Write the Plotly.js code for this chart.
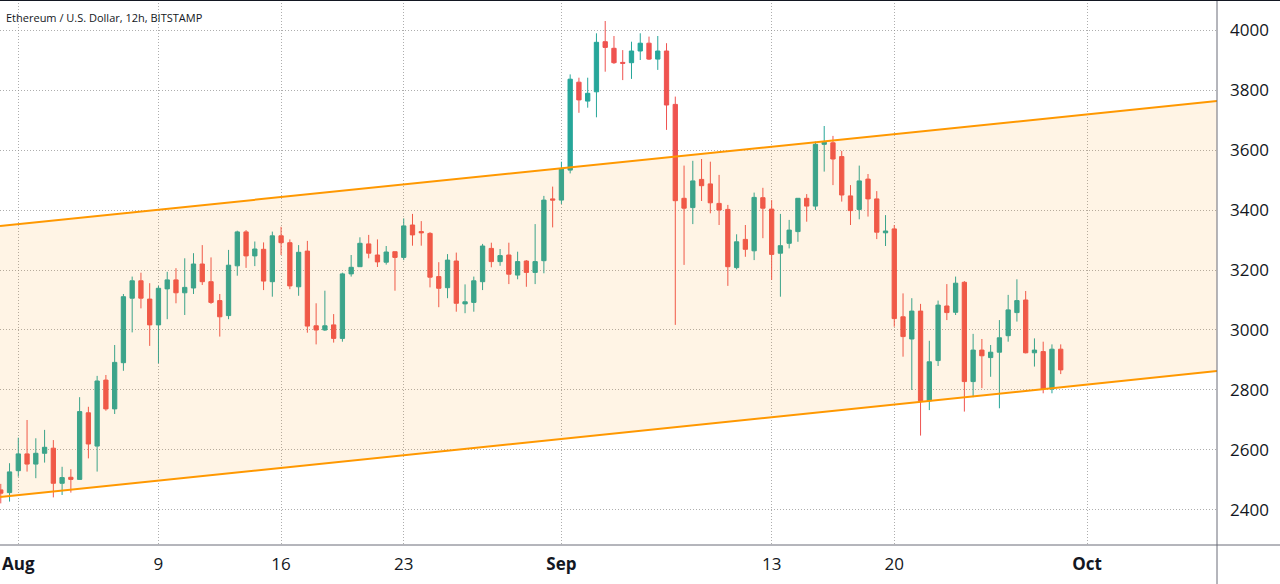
<!DOCTYPE html>
<html>
<head>
<meta charset="utf-8">
<script src="https://cdn.plot.ly/plotly-3.0.1.min.js"></script>
<style>html,body{margin:0;padding:0;background:#fff;}#chart{width:1280px;height:584px;}</style>
</head>
<body>
<div id="chart"></div>
<script>
// ETH/USD 12h candles, first candle opens 2021-07-31 00:00 (BITSTAMP)
const firstCandle = '2021-07-31T00:00:00';
const candleHours = 12;
const openPrices = [2467,2458,2531,2587,2553,2589,2606,2489,2509,2502,2724,2613,2833,2737,2891,3106,3164,3103,3017,3137,
3167,3124,3140,3220,3161,3098,3048,3214,3327,3247,3269,3161,3314,3291,3144,3263,3014,3000,3017,2972,
3187,3211,3287,3250,3226,3261,3242,3350,3328,3322,3178,3141,3230,3087,3092,3161,3272,3228,3250,3183,
3230,3192,3231,3437,3433,3533,3826,3763,3794,3961,3939,3892,3891,3930,3956,3903,3930,3752,3439,3408,
3502,3487,3422,3402,3208,3302,3264,3441,3403,3256,3289,3328,3439,3413,3619,3624,3578,3447,3402,3503,
3437,3324,3337,3044,2970,3063,2764,2898,3080,3059,3159,2828,2933,2908,2926,2981,3058,3100,2924,2928,
2803,2936];
const highPrices = [2487,2556,2641,2700,2639,2667,2633,2544,2536,2776,2744,2847,2850,2950,3120,3178,3191,3156,3147,3194,
3206,3239,3256,3283,3242,3120,3267,3331,3333,3295,3292,3328,3344,3302,3283,3297,3089,3131,3053,3191,
3250,3309,3317,3302,3280,3261,3372,3387,3363,3326,3226,3253,3258,3152,3178,3287,3291,3270,3291,3261,
3233,3353,3447,3478,3561,3852,3841,3841,3989,4030,3980,3933,3961,3989,3978,3980,3956,3778,3548,3564,
3570,3561,3517,3417,3319,3350,3458,3474,3433,3387,3367,3439,3453,3628,3680,3647,3597,3483,3548,3520,
3463,3383,3350,3122,3106,3087,2964,3098,3153,3178,3163,2987,2970,2950,3033,3117,3169,3130,2972,2961,
2952,2952];
const lowPrices = [2422,2428,2511,2528,2506,2558,2442,2450,2458,2502,2572,2528,2731,2720,2864,2992,3072,2947,2889,3036,
3089,3050,3120,3150,3087,2978,3036,3181,3207,3213,3133,3111,3250,3136,3114,2991,2952,2997,2958,2961,
3178,3211,3239,3210,3218,3131,3233,3281,3281,3142,3076,3106,3061,3056,3061,3133,3209,3214,3153,3169,
3144,3153,3189,3342,3420,3522,3724,3741,3709,3861,3887,3833,3837,3900,3900,3867,3667,3017,3217,3353,
3430,3389,3350,3147,3202,3244,3233,3306,3167,3111,3272,3294,3361,3400,3528,3483,3428,3350,3369,3378,
3303,3280,3011,2911,2800,2648,2733,2880,3033,3050,2728,2776,2806,2844,2739,2961,3028,2922,2878,2789,
2789,2853];
const closePrices = [2456,2527,2587,2553,2589,2609,2489,2508,2502,2728,2620,2830,2737,2892,3111,3164,3106,3017,3139,3167,
3124,3142,3220,3161,3092,3044,3216,3327,3247,3270,3163,3314,3291,3147,3259,3013,3000,3014,2972,3187,
3209,3289,3256,3227,3260,3242,3347,3317,3324,3176,3139,3233,3089,3094,3164,3280,3228,3248,3186,3228,
3192,3228,3433,3433,3537,3836,3767,3789,3959,3942,3891,3889,3930,3956,3903,3930,3750,3431,3406,3497,
3481,3424,3400,3211,3294,3269,3442,3406,3252,3281,3333,3439,3413,3619,3626,3570,3450,3398,3497,3437,
3326,3330,3038,2978,3063,2764,2894,3083,3058,3156,2828,2933,2914,2926,2974,3067,3098,2924,2933,2803,
2936,2867];

// Ascending channel (endpoints at the visible range edges)
const channelDates = ['2021-07-30T22:56:00', '2021-10-08T10:05:00'];
const upperChannel = [3347, 3763];
const lowerChannel = [2443, 2863];

// Axis ticks
const xTickDates = ['2021-08-01','2021-08-09','2021-08-16','2021-08-23','2021-09-01','2021-09-13','2021-09-20','2021-10-01'];
const xTickLabels = ['<b>Aug</b>','9','16','23','<b>Sep</b>','13','20','<b>Oct</b>'];
const yTickValues = [2400,2600,2800,3000,3200,3400,3600,3800,4000];
const yRange = [2283.3, 4100];

function pad(n){return (n<10?'0':'')+n;}
const start = new Date(firstCandle + 'Z').getTime();
const candleDates = openPrices.map((_, i) => {
  const d = new Date(start + i*candleHours*3600*1000);
  return d.getUTCFullYear()+'-'+pad(d.getUTCMonth()+1)+'-'+pad(d.getUTCDate())+' '+pad(d.getUTCHours())+':00';
});

const orange = '#ff9800';
const traces = [
  {type:'scatter', mode:'lines', x:channelDates, y:lowerChannel, line:{color:orange, width:2}, hoverinfo:'skip', showlegend:false},
  {type:'scatter', mode:'lines', x:channelDates, y:upperChannel, line:{color:orange, width:2}, fill:'tonexty', fillcolor:'rgba(255,152,0,0.1)', hoverinfo:'skip', showlegend:false},
  {type:'candlestick', x:candleDates, open:openPrices, high:highPrices, low:lowPrices, close:closePrices,
   increasing:{line:{color:'#26a69a', width:1}, fillcolor:'#26a69a'},
   decreasing:{line:{color:'#ef5350', width:1}, fillcolor:'#ef5350'},
   whiskerwidth:0, showlegend:false, hoverinfo:'skip'}
];

const axisFont = {family:'"Open Sans", "DejaVu Sans", sans-serif', size:17, color:'#131722'};
const frame = '#6a6d78';
const gridCol = 'rgba(140,140,140,0.7)';
const layout = {
  width:1280, height:584, autosize:false,
  margin:{l:0, r:63, t:0, b:39, pad:0},
  paper_bgcolor:'#ffffff', plot_bgcolor:'#ffffff',
  showlegend:false,
  xaxis:{type:'date', range:channelDates, rangeslider:{visible:false},
    tickvals:xTickDates, ticktext:xTickLabels, tickfont:axisFont,
    showgrid:true, gridcolor:gridCol, griddash:'1px,2px', gridwidth:1,
    ticks:'', ticklabelstandoff:7, showline:false, zeroline:false, fixedrange:true},
  yaxis:{side:'right', range:yRange, tickvals:yTickValues, tickfont:axisFont,
    showgrid:true, gridcolor:gridCol, griddash:'1px,2px', gridwidth:1,
    ticks:'', ticklabelstandoff:12, showline:false, zeroline:false, fixedrange:true},
  shapes:[
    {type:'line', xref:'paper', yref:'paper', x0:1, x1:1, y0:-0.0716, y1:1, line:{color:frame, width:1}},
    {type:'line', xref:'paper', yref:'paper', x0:0, x1:1.0518, y0:0, y1:0, line:{color:frame, width:1}},
    {type:'line', xref:'paper', yref:'paper', x0:0, x1:1.0518, y0:1, y1:1, line:{color:'#131722', width:2}}
  ],
  annotations:[
    {xref:'paper', yref:'paper', x:0, y:1, xanchor:'left', yanchor:'top', xshift:4, yshift:-8,
     text:'Ethereum / U.S. Dollar, 12h, BITSTAMP', showarrow:false,
     font:{family:'"Open Sans", "DejaVu Sans", sans-serif', size:11, color:'#131722'}}
  ]
};

Plotly.newPlot('chart', traces, layout, {staticPlot:true, displayModeBar:false});
</script>
</body>
</html>
